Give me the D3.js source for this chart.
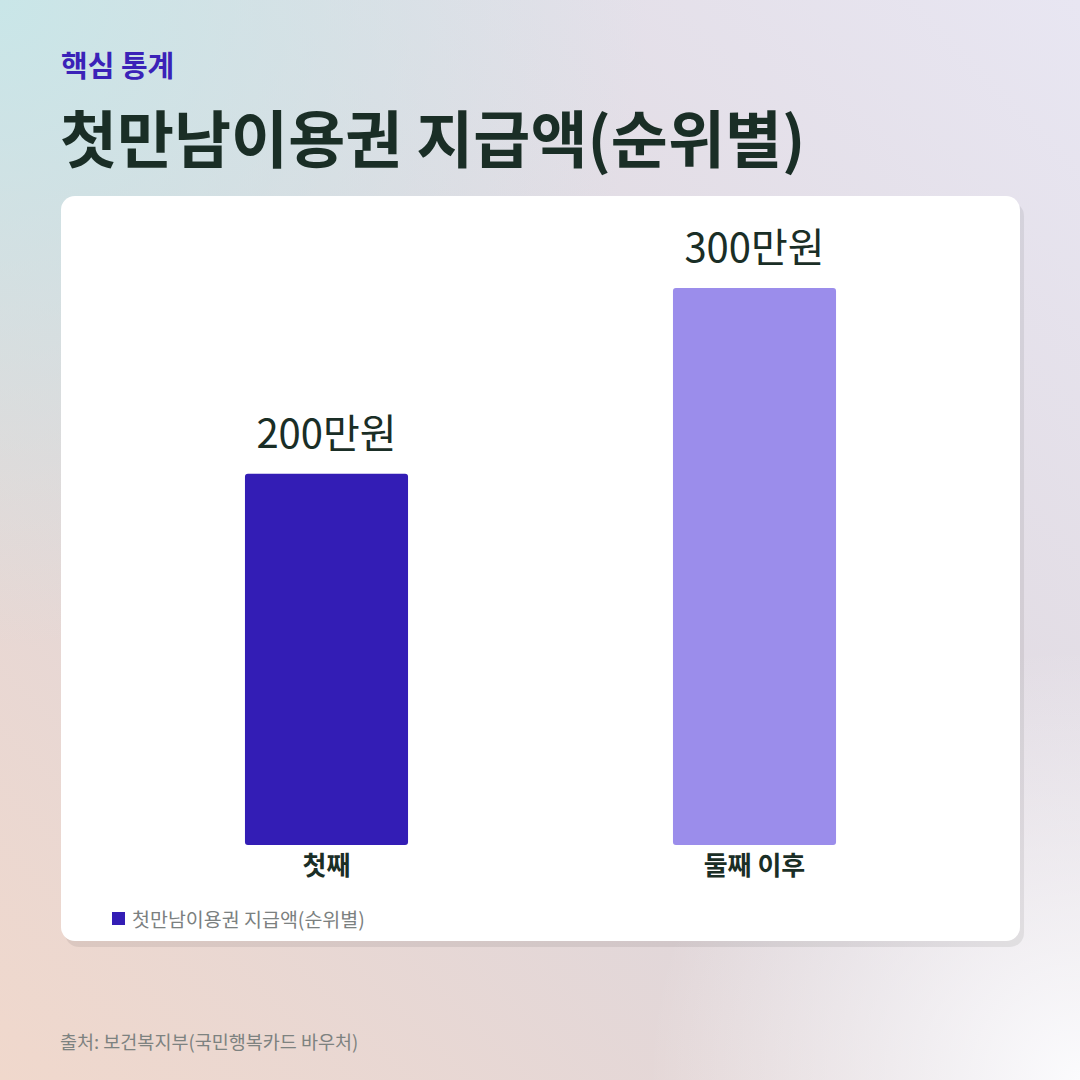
<!DOCTYPE html>
<html>
<head>
<meta charset="utf-8">
<script src="https://cdn.jsdelivr.net/npm/d3@7"></script>
<style>
  html, body { margin: 0; padding: 0; }
  body { width: 1080px; height: 1080px; overflow: hidden; }
  text { font-family: "Noto Sans CJK KR", "Noto Sans", sans-serif; }
</style>
</head>
<body>
<div id="chart"></div>
<script>
// data
const categories = ["첫째", "둘째 이후"];
const values = [200, 300];
const valueLabels = ["200만원", "300만원"];
const barColors = ["#331db5", "#9b8deb"];
const seriesName = "첫만남이용권 지급액(순위별)";

const W = 1080, H = 1080;
const card = {x: 61, y: 196, w: 959, h: 745, r: 14};
const plot = {left: 112.5, right: 968.5, top: 288, bottom: 845};
const ink = "#1a2e26";

const svg = d3.select("#chart")
  .append("svg")
    .attr("width", W)
    .attr("height", H);

const defs = svg.append("defs");

// background gradients
const base = defs.append("linearGradient")
  .attr("id", "bgBase")
  .attr("x1", "0").attr("y1", "1").attr("x2", "1").attr("y2", "0");
base.append("stop").attr("offset", "0%").attr("stop-color", "#f0d8cc");
base.append("stop").attr("offset", "45%").attr("stop-color", "#dfd7dc");
base.append("stop").attr("offset", "100%").attr("stop-color", "#e8e6f2");

const teal = defs.append("radialGradient")
  .attr("id", "bgTeal")
  .attr("cx", "0").attr("cy", "0").attr("r", "0.6");
teal.append("stop").attr("offset", "0%").attr("stop-color", "#c9e6e8").attr("stop-opacity", 1);
teal.append("stop").attr("offset", "100%").attr("stop-color", "#c9e6e8").attr("stop-opacity", 0);

const white = defs.append("radialGradient")
  .attr("id", "bgWhite")
  .attr("cx", "1").attr("cy", "1").attr("r", "0.4");
white.append("stop").attr("offset", "0%").attr("stop-color", "#fbfbfd").attr("stop-opacity", 1);
white.append("stop").attr("offset", "100%").attr("stop-color", "#fbfbfd").attr("stop-opacity", 0);

svg.append("rect").attr("width", W).attr("height", H).attr("fill", "url(#bgBase)");
svg.append("rect").attr("width", W).attr("height", H).attr("fill", "url(#bgTeal)");
svg.append("rect").attr("width", W).attr("height", H).attr("fill", "url(#bgWhite)");

// headings
svg.append("text")
  .attr("x", 61)
  .attr("y", 77)
  .attr("fill", "#3a22b8")
  .style("font-size", "29px")
  .style("font-weight", 700)
  .text("핵심 통계");

svg.append("text")
  .attr("x", 60)
  .attr("y", 163)
  .attr("fill", ink)
  .style("font-size", "62px")
  .style("font-weight", 700)
  .text(seriesName);

// card with shadow
svg.append("rect")
  .attr("x", card.x + 4).attr("y", card.y + 6)
  .attr("width", card.w).attr("height", card.h)
  .attr("rx", card.r)
  .attr("fill", "#000")
  .attr("opacity", 0.07);

svg.append("rect")
  .attr("x", card.x).attr("y", card.y)
  .attr("width", card.w).attr("height", card.h)
  .attr("rx", card.r)
  .attr("fill", "#fff");

// scales
const x = d3.scaleBand()
  .domain(categories)
  .range([plot.left, plot.right])
  .paddingInner(0.619)
  .paddingOuter(0.3095);

const y = d3.scaleLinear()
  .domain([0, d3.max(values)])
  .range([plot.bottom, plot.top]);

const data = categories.map((c, i) => ({cat: c, value: values[i], label: valueLabels[i], color: barColors[i]}));

// bars
svg.selectAll("rect.bar")
  .data(data)
  .join("rect")
    .attr("class", "bar")
    .attr("x", d => x(d.cat))
    .attr("y", d => y(d.value))
    .attr("width", x.bandwidth())
    .attr("height", d => y(0) - y(d.value))
    .attr("rx", 3)
    .attr("fill", d => d.color);

// value labels
svg.selectAll("text.value")
  .data(data)
  .join("text")
    .attr("class", "value")
    .attr("x", d => x(d.cat) + x.bandwidth() / 2)
    .attr("y", d => y(d.value) - 26)
    .attr("text-anchor", "middle")
    .attr("fill", ink)
    .style("font-size", "40px")
    .text(d => d.label);

// x axis labels
const xAxis = svg.append("g")
  .attr("transform", `translate(0,${plot.bottom})`)
  .call(d3.axisBottom(x).tickSize(0).tickPadding(12));
xAxis.select(".domain").remove();
xAxis.selectAll("text")
  .attr("dy", "0.71em")
  .attr("fill", ink)
  .style("font-size", "26px")
  .style("font-weight", 700)
  .style("font-family", "'Noto Sans CJK KR', sans-serif");

// legend
svg.append("rect")
  .attr("x", 112).attr("y", 912)
  .attr("width", 13).attr("height", 13)
  .attr("fill", barColors[0]);

svg.append("text")
  .attr("x", 132)
  .attr("y", 927)
  .attr("fill", "#7b8080")
  .style("font-size", "19.5px")
  .text(seriesName);

// source
svg.append("text")
  .attr("x", 60)
  .attr("y", 1049)
  .attr("fill", "#7d8280")
  .style("font-size", "18.5px")
  .text("출처: 보건복지부(국민행복카드 바우처)");
</script>
</body>
</html>
